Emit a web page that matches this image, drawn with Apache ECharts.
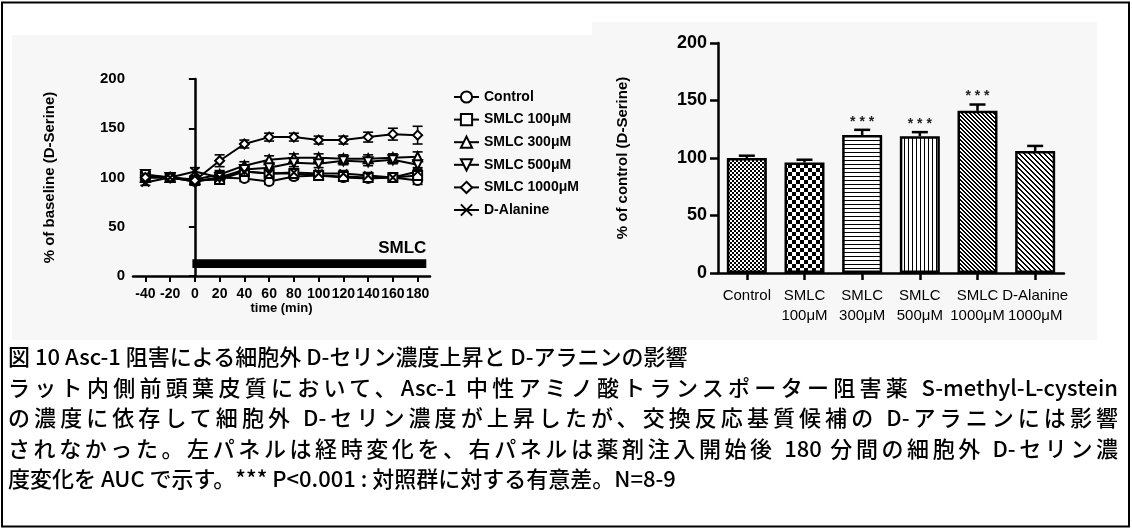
<!DOCTYPE html>
<html>
<head>
<meta charset="utf-8">
<script src="https://cdn.jsdelivr.net/npm/echarts@6/dist/echarts.min.js"></script>
<style>
html, body { margin: 0; padding: 0; background: #fff; }
#wrap { position: relative; width: 1132px; height: 529px; overflow: hidden; }
#chart { position: absolute; left: 0; top: 0; width: 1132px; height: 529px; }
#caption { position: absolute; left: 8px; top: 340px; width: 1110px; font-family: 'Noto Sans CJK JP'; font-weight: 500; font-size: 22px; line-height: 30.5px; color: #000; white-space: nowrap; }
#caption .j { text-align: justify; text-align-last: justify; }
</style>
</head>
<body>
<div id="wrap">
  <div id="chart"></div>
  <div id="caption">
    <div>図 10 Asc-1 阻害による細胞外 D-セリン濃度上昇と D-アラニンの影響</div>
    <div class="j">ラット内側前頭葉皮質において、Asc-1 中性アミノ酸トランスポーター阻害薬 S-methyl-L-cystein</div>
    <div class="j">の濃度に依存して細胞外 D-セリン濃度が上昇したが、交換反応基質候補の D-アラニンには影響</div>
    <div class="j">されなかった。左パネルは経時変化を、右パネルは薬剤注入開始後 180 分間の細胞外 D-セリン濃</div>
    <div>度変化を AUC で示す。*** P&lt;0.001 : 対照群に対する有意差。N=8-9</div>
  </div>
</div>
<script>
'use strict';
// left panel: time course
var timePoints = [-40, -20, 0, 20, 40, 60, 80, 100, 120, 140, 160, 180];
var timeTicks = [-40, -20, 0, 20, 40, 60, 80, 100, 120, 140, 160, 180];
var seriesNames = ['Control', 'SMLC 100μM', 'SMLC 300μM', 'SMLC 500μM', 'SMLC 1000μM', 'D-Alanine'];
var control = [102, 100, 96, 100, 99, 96, 101, 102, 100, 99, 100, 97];
var smlc100 = [101, 100, 97, 98, 106, 104, 104, 102, 101, 100, 100, 102];
var smlc300 = [100, 100, 98, 103, 112, 118, 120, 120, 119, 119, 120, 121];
var smlc500 = [103, 100, 96, 100, 108, 110, 115, 114, 117, 116, 118, 113];
var smlc1000 = [100, 100, 97, 117, 134, 141, 141, 138, 138, 141, 144, 143];
var dAlanine = [95, 100, 106, 100, 106, 104, 105, 104, 104, 102, 100, 106];
var controlErr = [3, 0, 3, 3, 3, 3, 3, 3, 3, 3, 3, 4];
var smlc100Err = [3, 0, 3, 4, 3, 3, 3, 3, 3, 3, 3, 4];
var smlc300Err = [3, 0, 3, 4, 4, 4, 4, 4, 4, 4, 4, 5];
var smlc500Err = [3, 0, 3, 6, 4, 4, 4, 4, 4, 4, 4, 5];
var smlc1000Err = [3, 0, 3, 6, 4, 4, 4, 4, 4, 5, 6, 9];
var dAlanineErr = [3, 0, 4, 4, 3, 3, 3, 3, 3, 3, 3, 4];
var smlcPeriod = [-2, 187];
var smlcBand = [8, 17];

// right panel: AUC
var barCategories = ['Control', 'SMLC\n100μM', 'SMLC\n300μM', 'SMLC\n500μM', 'SMLC\n1000μM', 'D-Alanine\n1000μM'];
var barValues = [100, 96, 120, 119, 141, 106];
var barErrors = [2, 2.5, 4.5, 3.5, 5.5, 4.5];
var barSig = ['', '', '***', '***', '***', ''];

var FONT = 'Liberation Sans';

function makePattern(size, draw) {
    var c = document.createElement('canvas');
    c.width = size; c.height = size;
    var g = c.getContext('2d');
    g.fillStyle = '#fff';
    g.fillRect(0, 0, size, size);
    g.fillStyle = '#000';
    draw(g, size);
    return { image: c, repeat: 'repeat' };
}
var patterns = [
    makePattern(4, function (g) { g.fillRect(0, 0, 2, 2); g.fillRect(2, 2, 2, 2); }),
    makePattern(8, function (g) { g.fillRect(0, 0, 4, 4); g.fillRect(4, 4, 4, 4); }),
    makePattern(4, function (g) { g.fillRect(0, 0, 4, 1); }),
    makePattern(4, function (g) { g.fillRect(0, 0, 1, 4); }),
    makePattern(4, function (g, s) { for (var i = 0; i < s; i++) { g.fillRect(i, i, 2, 1); } g.fillRect(0, s - 1, 1, 1); }),
    makePattern(5, function (g, s) { for (var i = 0; i < s; i++) { g.fillRect(i, i, 2, 1); } g.fillRect(0, s - 1, 1, 1); })
];

var symbols = [
    'circle',
    'rect',
    'triangle',
    'path://M0,0 L10,0 L5,9 Z',
    'diamond',
    'path://M0,0 L10,10 M10,0 L0,10'
];
var values = [control, smlc100, smlc300, smlc500, smlc1000, dAlanine];
var errors = [controlErr, smlc100Err, smlc300Err, smlc500Err, smlc1000Err, dAlanineErr];

function lineErrRender(params, api) {
    var x = api.value(0);
    var lo = api.coord([x, api.value(1)]);
    var hi = api.coord([x, api.value(2)]);
    var h = 5;
    var st = { stroke: '#000', lineWidth: 1.6 };
    return {
        type: 'group',
        children: [
            { type: 'line', shape: { x1: lo[0], y1: lo[1], x2: hi[0], y2: hi[1] }, style: st },
            { type: 'line', shape: { x1: hi[0] - h, y1: hi[1], x2: hi[0] + h, y2: hi[1] }, style: st },
            { type: 'line', shape: { x1: lo[0] - h, y1: lo[1], x2: lo[0] + h, y2: lo[1] }, style: st }
        ]
    };
}

function barErrRender(params, api) {
    var i = api.value(0);
    var base = api.coord([i, api.value(1)]);
    var top = api.coord([i, api.value(2)]);
    var sig = barSig[params.dataIndex];
    var st = { stroke: '#000', lineWidth: 2.5 };
    var kids = [
        { type: 'line', shape: { x1: base[0], y1: base[1], x2: top[0], y2: top[1] }, style: st },
        { type: 'line', shape: { x1: top[0] - 8, y1: top[1], x2: top[0] + 8, y2: top[1] }, style: st }
    ];
    if (sig) {
        kids.push({
            type: 'text',
            style: {
                text: sig.split('').join(' '), x: top[0], y: top[1] - 1,
                textAlign: 'center', textVerticalAlign: 'bottom',
                font: 'bold 14px ' + FONT, fill: '#222'
            }
        });
    }
    return { type: 'group', children: kids };
}

var series = [];
seriesNames.forEach(function (name, k) {
    var s = {
        name: name,
        type: 'line',
        xAxisIndex: 0,
        yAxisIndex: 0,
        data: timePoints.map(function (t, i) { return [t, values[k][i]]; }),
        symbol: symbols[k],
        symbolSize: k === 5 ? 8 : 9,
        showAllSymbol: true,
        lineStyle: { color: '#000', width: 2 },
        itemStyle: { color: '#fff', borderColor: '#000', borderWidth: 2 },
        z: 3
    };
    if (k === 0) {
        s.markArea = {
            silent: true,
            itemStyle: { color: '#000' },
            label: {
                show: true, position: ['100%', -2], align: 'right', verticalAlign: 'bottom',
                fontFamily: FONT, fontWeight: 'bold', fontSize: 17, color: '#000'
            },
            data: [[{ name: 'SMLC', xAxis: smlcPeriod[0], yAxis: smlcBand[0] },
                    { xAxis: smlcPeriod[1], yAxis: smlcBand[1] }]]
        };
    }
    series.push(s);
    series.push({
        type: 'custom',
        xAxisIndex: 0,
        yAxisIndex: 0,
        renderItem: lineErrRender,
        encode: { x: 0, y: [1, 2] },
        data: timePoints.map(function (t, i) { return [t, values[k][i] - errors[k][i], values[k][i] + errors[k][i]]; }),
        silent: true,
        z: 2
    });
});

series.push({
    type: 'bar',
    xAxisIndex: 1,
    yAxisIndex: 1,
    barWidth: 40,
    data: barValues.map(function (v, i) {
        return { value: v, itemStyle: { color: patterns[i] } };
    }),
    itemStyle: { borderColor: '#000', borderWidth: 2.5 },
    z: 2
});
series.push({
    type: 'custom',
    xAxisIndex: 1,
    yAxisIndex: 1,
    renderItem: barErrRender,
    encode: { x: 0, y: [1, 2] },
    data: barValues.map(function (v, i) { return [i, v, v + barErrors[i]]; }),
    silent: true,
    z: 3
});

var chart = echarts.init(document.getElementById('chart'));
chart.setOption({
    backgroundColor: '#fff',
    animation: false,
    textStyle: { fontFamily: FONT },
    graphic: [
        { type: 'rect', z: -10, shape: { x: 12, y: 35, width: 580, height: 305 }, style: { fill: '#f7f7f7' } },
        { type: 'rect', z: -10, shape: { x: 592, y: 22, width: 505, height: 318 }, style: { fill: '#f7f7f7' } },
        { type: 'rect', z: 10, shape: { x: 2, y: 2.5, width: 1127, height: 524 }, style: { fill: 'none', stroke: '#000', lineWidth: 2 } }
    ],
    legend: {
        data: seriesNames,
        orient: 'vertical',
        left: 448,
        top: 85,
        itemWidth: 25,
        itemHeight: 14,
        itemGap: 8.6,
        textStyle: { fontFamily: FONT, fontWeight: 'bold', fontSize: 14, color: '#000' }
    },
    grid: [
        { left: 133, top: 79, width: 297, height: 197 },
        { left: 718, top: 43, width: 346, height: 230 }
    ],
    xAxis: [{
        gridIndex: 0,
        type: 'value',
        min: -50,
        max: 190,
        name: 'time (min)',
        nameLocation: 'middle',
        nameGap: 24,
        nameTextStyle: { fontFamily: FONT, fontWeight: 'bold', fontSize: 13, color: '#000' },
        axisLine: { show: true, onZero: false, lineStyle: { color: '#000', width: 2.5 } },
        axisTick: { show: true, length: 6, customValues: timeTicks, lineStyle: { color: '#000', width: 2 } },
        axisLabel: {
            customValues: timeTicks, margin: 11, hideOverlap: false, showMinLabel: true, showMaxLabel: true,
            fontFamily: FONT, fontWeight: 'bold', fontSize: 14, color: '#000'
        },
        splitLine: { show: false }
    }, {
        gridIndex: 1,
        type: 'category',
        data: barCategories,
        axisLine: { show: true, lineStyle: { color: '#000', width: 2.5 } },
        axisTick: { show: true, alignWithLabel: true, length: 7, lineStyle: { color: '#000', width: 2.5 } },
        axisLabel: { interval: 0, margin: 13, fontFamily: FONT, fontSize: 15, lineHeight: 20, color: '#000' }
    }],
    yAxis: [{
        gridIndex: 0,
        type: 'value',
        min: 0,
        max: 200,
        interval: 50,
        name: '% of baseline (D-Serine)',
        nameLocation: 'middle',
        nameGap: 76,
        nameTextStyle: { fontFamily: FONT, fontWeight: 'bold', fontSize: 15, color: '#000' },
        axisLine: { show: true, lineStyle: { color: '#000', width: 2.5 } },
        axisTick: { show: true, length: 6, lineStyle: { color: '#000', width: 2 } },
        axisLabel: { margin: 8, fontFamily: FONT, fontWeight: 'bold', fontSize: 15, color: '#000' },
        splitLine: { show: false }
    }, {
        gridIndex: 1,
        type: 'value',
        min: 0,
        max: 200,
        interval: 50,
        name: '% of control (D-Serine)',
        nameLocation: 'middle',
        nameGap: 88,
        nameTextStyle: { fontFamily: FONT, fontWeight: 'bold', fontSize: 15, color: '#000' },
        axisLine: { show: true, lineStyle: { color: '#000', width: 2.5 } },
        axisTick: { show: true, length: 8, lineStyle: { color: '#000', width: 2.5 } },
        axisLabel: { margin: 11, fontFamily: FONT, fontWeight: 'bold', fontSize: 18, color: '#000' },
        splitLine: { show: false }
    }],
    series: series
});
</script>
</body>
</html>
